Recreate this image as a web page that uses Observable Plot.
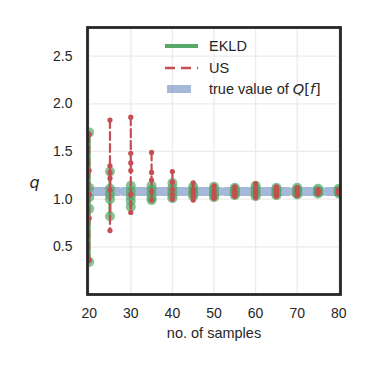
<!DOCTYPE html>
<html><head><meta charset="utf-8">
<script src="https://cdn.jsdelivr.net/npm/d3@7"></script>
<script src="https://cdn.jsdelivr.net/npm/@observablehq/plot@0.6"></script>
<style>body{margin:0;background:#fff;}</style>
</head><body><div id="chart"></div>
<script>
const ns = [20, 25, 30, 35, 40, 45, 50, 55, 60, 65, 70, 75, 80];
const ekld = [
  [1.70, 1.12, 1.02, 0.90, 0.34],
  [1.29, 1.11, 1.05, 1.00, 0.82],
  [1.14, 1.08, 1.03, 0.98, 0.92],
  [1.14, 1.10, 1.05, 1.01, 0.99],
  [1.17, 1.12, 1.08, 1.04, 1.01],
  [1.13, 1.10, 1.07, 1.05, 1.03],
  [1.13, 1.10, 1.07, 1.04, 1.02],
  [1.12, 1.10, 1.08, 1.06, 1.04],
  [1.14, 1.11, 1.08, 1.06, 1.03],
  [1.12, 1.10, 1.08, 1.06, 1.04],
  [1.12, 1.10, 1.08, 1.06, 1.05],
  [1.11, 1.09, 1.08, 1.07, 1.06],
  [1.11, 1.09, 1.08, 1.07, 1.06]
];
const us = [
  [1.68, 1.30, 1.05, 0.80, 0.36],
  [1.83, 1.35, 1.28, 1.22, 1.10, 0.67],
  [1.86, 1.48, 1.38, 1.30, 1.05, 0.86],
  [1.49, 1.28, 1.20, 1.08, 0.99],
  [1.29, 1.18, 1.10, 1.05, 1.00],
  [1.17, 1.10, 1.07, 1.03, 0.99],
  [1.14, 1.09, 1.06, 1.03, 1.01],
  [1.13, 1.09, 1.07, 1.05, 1.03],
  [1.16, 1.11, 1.08, 1.05, 1.02],
  [1.13, 1.10, 1.08, 1.05, 1.03],
  [1.12, 1.10, 1.08, 1.06, 1.04],
  [1.10, 1.09, 1.08, 1.07, 1.06],
  [1.10, 1.09, 1.08, 1.07, 1.06]
];
const trueQ = 1.08;
const xTicks = [20, 30, 40, 50, 60, 70, 80];
const yTicks = [0.5, 1.0, 1.5, 2.0, 2.5];
const seriesNames = ["EKLD", "US", "true value of "];

const ekldRows = ns.flatMap((n, i) => ekld[i].map(q => ({n, q})));
const usRows = ns.flatMap((n, i) => us[i].map(q => ({n, q})));
const trueRows = ns.map(n => ({n, q: trueQ}));

const GREEN = "#55A868", RED = "#C44E52", BLUE = "#4C72B0", INK = "#262626";
const FONT = "'Liberation Sans', Arial, sans-serif";

const chart = Plot.plot({
  width: 373, height: 373,
  marginLeft: 87, marginRight: 33, marginTop: 27, marginBottom: 79,
  style: {fontFamily: FONT, color: INK, background: "#fff"},
  x: {domain: [19.6, 80.4]},
  y: {domain: [0, 2.8]},
  marks: [
    Plot.gridX(xTicks, {stroke: "#ebebeb", strokeOpacity: 1, strokeWidth: 1.3}),
    Plot.gridY(yTicks, {stroke: "#ebebeb", strokeOpacity: 1, strokeWidth: 1.3}),
    Plot.lineY(trueRows, {x: "n", y: "q", stroke: BLUE, strokeOpacity: 0.5, strokeWidth: 9, strokeDasharray: "29,5", clip: true}),
    Plot.line(ekldRows, {x: "n", y: "q", z: "n", stroke: GREEN, strokeWidth: 3, clip: true}),
    Plot.dot(ekldRows, {x: "n", y: "q", r: 5, fill: GREEN, fillOpacity: 0.7, clip: true}),
    Plot.line(usRows, {x: "n", y: "q", z: "n", stroke: RED, strokeWidth: 2.2, strokeDasharray: "8,4", clip: true}),
    Plot.dot(usRows, {x: "n", y: "q", r: 2.6, fill: RED, clip: true}),
    Plot.axisX(xTicks, {tickSize: 0, tickPadding: 14, fontSize: 14, label: null}),
    Plot.axisY(yTicks, {tickSize: 0, tickPadding: 15, fontSize: 14, tickFormat: d => d.toFixed(1), label: null}),
    Plot.text(["no. of samples"], {frameAnchor: "bottom", dy: 43, fontSize: 14.5, fill: INK}),
    Plot.text(["q"], {frameAnchor: "left", dx: -58, dy: 22, fontSize: 16, fontStyle: "italic", fontFamily: "DejaVu Sans", fill: INK}),
    Plot.frame({stroke: INK, strokeWidth: 2.8})
  ]
});
document.getElementById("chart").append(chart);

// legend
const svg = d3.select(chart);
const lg = svg.append("g").attr("font-family", FONT).attr("font-size", 14.5)
  .attr("fill", INK).attr("text-anchor", "start");
const rows = [46, 68, 89];
lg.append("line").attr("x1", 165).attr("x2", 198).attr("y1", rows[0]).attr("y2", rows[0])
  .attr("stroke", GREEN).attr("stroke-width", 4);
lg.append("line").attr("x1", 165).attr("x2", 198).attr("y1", rows[1]).attr("y2", rows[1])
  .attr("stroke", RED).attr("stroke-width", 2.5).attr("stroke-dasharray", "10,6");
lg.append("rect").attr("x", 167).attr("y", rows[2] - 4).attr("width", 24).attr("height", 8)
  .attr("fill", BLUE).attr("fill-opacity", 0.5);
lg.append("text").attr("x", 209).attr("y", rows[0]).attr("dy", "0.35em").text(seriesNames[0]);
lg.append("text").attr("x", 209).attr("y", rows[1]).attr("dy", "0.35em").text(seriesNames[1]);
const t3 = lg.append("text").attr("x", 209).attr("y", rows[2]).attr("dy", "0.35em");
t3.append("tspan").text(seriesNames[2]);
t3.append("tspan").attr("font-family", "DejaVu Sans").attr("font-style", "italic").text("Q");
t3.append("tspan").attr("font-family", "DejaVu Sans").text("[");
t3.append("tspan").attr("font-family", "DejaVu Sans").attr("font-style", "italic").text("f");
t3.append("tspan").attr("font-family", "DejaVu Sans").text("]");
</script>
</body></html>
